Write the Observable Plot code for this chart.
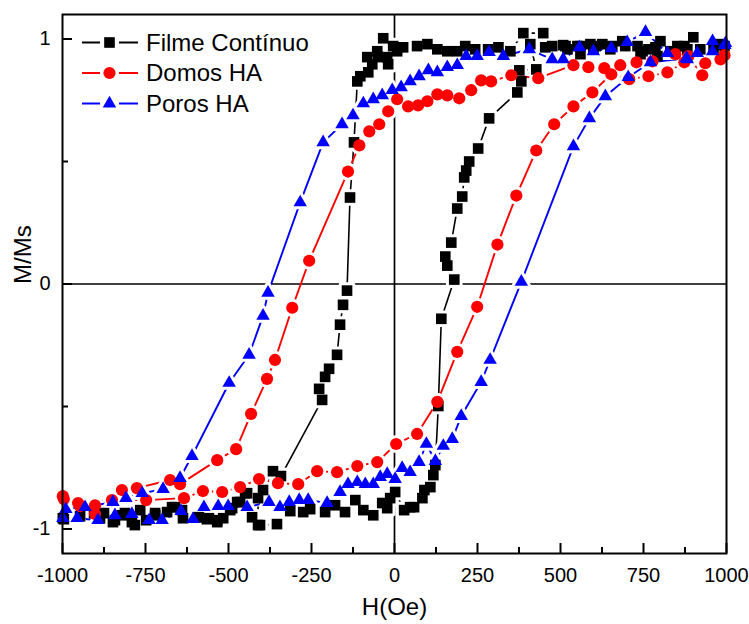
<!DOCTYPE html>
<html><head><meta charset="utf-8">
<script src="https://cdn.jsdelivr.net/npm/d3@7"></script>
<script src="https://cdn.jsdelivr.net/npm/@observablehq/plot@0.6"></script>
<style>
body{margin:0;background:#fff;}
#chart{width:749px;height:624px;}
</style></head><body><div id="chart"></div>
<script>
const seriesNames = ["Filme Contínuo", "Domos HA", "Poros HA"];
const xTicks = [-1000, -750, -500, -250, 0, 250, 500, 750, 1000];
const xMinorTicks = [-875, -625, -375, -125, 125, 375, 625, 875];
const yTicks = [-1, 0, 1];
const yMinorTicks = [-0.5, 0.5];

// Filme Contínuo: descending branch then ascending branch
const filmeDescH = [994,961,900,882,852,801,792,765,741,732,686,656,626,599,590,560,551,515,508,475,448,388,349,313,282,243,213,189,159,129,99,68,26,8,-4,-19,-22,-34,-49,-52,-67,-79,-82,-103,-112,-122,-134,-143,-155,-164,-173,-197,-209,-227,-218,-342,-366,-396,-411,-411,-450,-474,-495,-534,-559,-589,-640,-670,-721,-748,-782,-812,-842,-875,-905,-947,-996];
const filmeDescM = [0.971,0.962,1.007,0.958,0.971,0.991,0.930,0.958,0.938,0.971,0.991,0.971,0.979,0.958,0.979,0.938,0.971,0.971,0.975,0.971,1.024,1.024,0.950,0.966,0.958,0.958,0.971,0.950,0.950,0.958,0.979,0.971,0.966,0.950,0.971,0.897,0.926,1.003,0.926,0.950,0.897,0.864,0.926,0.848,0.827,0.578,0.353,-0.027,-0.085,-0.166,-0.289,-0.346,-0.379,-0.428,-0.473,-0.784,-0.764,-0.841,-0.874,-0.984,-0.854,-0.890,-0.923,-0.964,-0.956,-0.952,-0.923,-0.911,-0.935,-0.964,-0.984,-0.935,-0.964,-0.935,-0.935,-0.948,-0.960];
const filmeAscH = [-999,-887,-848,-821,-791,-766,-721,-685,-661,-637,-592,-565,-534,-516,-489,-465,-444,-429,-405,-354,-314,-275,-254,-209,-179,-149,-118,-94,-64,-37,-22,-13,2,29,47,59,84,90,108,117,123,132,141,180,159,153,171,189,204,210,216,225,252,285,370,382,376,427,409,454,521,560,606,650,695,747,786,831,873,921,976];
const filmeAscM = [-0.956,-0.956,-0.972,-0.944,-0.972,-0.923,-0.944,-0.931,-0.911,-0.956,-0.952,-0.960,-0.972,-0.956,-0.915,-0.890,-0.854,-0.952,-0.984,-0.980,-0.927,-0.931,-0.919,-0.931,-0.903,-0.931,-0.882,-0.923,-0.944,-0.894,-0.915,-0.874,-0.849,-0.923,-0.911,-0.911,-0.874,-0.841,-0.829,-0.780,-0.739,-0.498,-0.142,0.018,0.075,0.112,0.169,0.308,0.357,0.435,0.463,0.500,0.553,0.676,0.782,0.827,0.872,0.876,0.979,0.966,0.958,0.971,0.971,0.958,0.971,0.950,0.966,0.950,0.971,0.958,0.979];

// Domos HA
const domosDescH = [994,927,885,846,777,729,680,632,584,539,433,352,291,261,231,195,159,129,99,71,41,8,-19,-46,-76,-106,-140,-257,-308,-360,-384,-432,-477,-534,-646,-676,-776,-821,-902,-953,-996];
const domosDescM = [0.934,0.852,0.930,0.938,0.909,0.905,0.893,0.881,0.885,0.893,0.840,0.852,0.827,0.831,0.791,0.758,0.770,0.774,0.746,0.729,0.725,0.754,0.705,0.652,0.623,0.566,0.459,0.095,-0.097,-0.310,-0.387,-0.530,-0.674,-0.719,-0.817,-0.800,-0.833,-0.841,-0.903,-0.894,-0.878];
const domosAscH = [-999,-947,-902,-851,-748,-634,-577,-519,-465,-408,-351,-290,-233,-173,-112,-52,5,68,129,189,249,310,367,427,481,539,596,653,707,765,822,873,936,982];
const domosAscM = [-0.866,-0.907,-0.939,-0.882,-0.882,-0.874,-0.845,-0.849,-0.829,-0.796,-0.813,-0.817,-0.764,-0.768,-0.743,-0.727,-0.653,-0.612,-0.481,-0.277,-0.093,0.161,0.361,0.545,0.652,0.725,0.782,0.856,0.836,0.848,0.864,0.905,0.901,0.917];

// Poros HA
const porosDescH = [997,958,912,882,822,756,701,653,599,557,508,475,406,328,285,249,216,189,159,129,102,74,47,20,-7,-37,-64,-94,-125,-158,-215,-284,-381,-396,-438,-498,-610,-646,-697,-760,-809,-848,-932,-990];
const porosDescM = [0.983,0.991,0.942,0.917,0.942,1.028,0.987,0.962,0.950,0.966,0.917,0.917,0.958,0.930,0.946,0.930,0.930,0.893,0.885,0.864,0.872,0.848,0.827,0.803,0.791,0.770,0.754,0.737,0.688,0.652,0.578,0.333,-0.036,-0.130,-0.289,-0.404,-0.702,-0.792,-0.837,-0.854,-0.874,-0.890,-0.911,-0.919];
const porosAscH = [-999,-956,-893,-842,-791,-739,-700,-643,-607,-574,-531,-501,-444,-378,-345,-317,-287,-260,-203,-164,-140,-112,-88,-64,-43,-22,2,23,47,74,96,123,147,174,201,261,288,382,539,587,635,704,771,879,958,995];
const porosAscM = [-0.956,-0.956,-0.964,-0.944,-0.939,-0.964,-0.964,-0.927,-0.960,-0.911,-0.907,-0.907,-0.911,-0.890,-0.911,-0.890,-0.882,-0.882,-0.894,-0.849,-0.817,-0.809,-0.817,-0.817,-0.788,-0.776,-0.796,-0.751,-0.768,-0.727,-0.653,-0.723,-0.661,-0.633,-0.539,-0.400,-0.310,0.009,0.562,0.676,0.766,0.844,0.905,0.921,0.950,0.975];

const mk = (H, M) => H.map((h, i) => ({H: h, M: M[i]}));
const series = [
  {name: seriesNames[0], data: mk([...filmeDescH, ...filmeAscH], [...filmeDescM, ...filmeAscM]), color: "#000000", symbol: "square", r: 6, sw: 1.6},
  {name: seriesNames[1], data: mk([...domosDescH, ...domosAscH], [...domosDescM, ...domosAscM]), color: "#ff0000", symbol: "circle", r: 6.1, sw: 1.9},
  {name: seriesNames[2], data: mk([...porosDescH, ...porosAscH], [...porosDescM, ...porosAscM]), color: "#0000ff", symbol: "triangle", r: 5, sw: 1.9}
];

const W = 749, Ht = 624, mL = 62, mR = 23, mT = 14, mB = 71;
const fw = W - mL - mR, fh = Ht - mT - mB;
const font = "'Liberation Sans', Arial, sans-serif";

const marks = [
  Plot.ruleX([0], {x: d => d, stroke: "#000", strokeWidth: 1.7}),
  Plot.ruleY([0], {y: d => d, stroke: "#000", strokeWidth: 1.7})
];
for (const s of series) {
  marks.push(Plot.line(s.data, {x: "H", y: "M", stroke: s.color, strokeWidth: s.sw}));
  marks.push(Plot.dot(s.data, {x: "H", y: "M", symbol: s.symbol, r: s.r, fill: "white", stroke: "white", strokeWidth: 6, strokeLinejoin: "round"}));
}
for (const s of series) {
  marks.push(Plot.dot(s.data, {x: "H", y: "M", symbol: s.symbol, r: s.r, fill: s.color, stroke: "none"}));
}
marks.push(
  Plot.ruleX(xTicks, {x: d => d, insetTop: fh - 10, stroke: "#000", strokeWidth: 2}),
  Plot.ruleX(xMinorTicks, {x: d => d, insetTop: fh - 6, stroke: "#000", strokeWidth: 2}),
  Plot.ruleY(yTicks, {y: d => d, insetRight: fw - 10, stroke: "#000", strokeWidth: 2}),
  Plot.ruleY(yMinorTicks, {y: d => d, insetRight: fw - 6, stroke: "#000", strokeWidth: 2}),
  Plot.axisX(xTicks, {tickSize: 0, tickPadding: 14, tickFormat: d => String(d), label: null, fontSize: 20}),
  Plot.axisY(yTicks, {tickSize: 0, tickPadding: 12, tickFormat: d => String(d), label: null, fontSize: 20}),
  Plot.frame({stroke: "#000", strokeWidth: 2}),
  Plot.text(["H(Oe)"], {text: d => d, frameAnchor: "bottom", dy: 61, fontSize: 24, fill: "#000"}),
  Plot.text(["M/Ms"], {text: d => d, frameAnchor: "left", rotate: -90, dx: -39, fontSize: 24, fill: "#000"})
);

const plot = Plot.plot({
  width: W, height: Ht,
  marginLeft: mL, marginRight: mR, marginTop: mT, marginBottom: mB,
  style: {fontFamily: font, fontSize: "20px", color: "#000", background: "#fff", overflow: "visible"},
  x: {domain: [-1000, 1000], label: null},
  y: {domain: [-1.1, 1.1], label: null},
  marks
});
document.getElementById("chart").appendChild(plot);

// Legend (top-left inside the frame)
const svg = d3.select(plot);
const lg = svg.append("g").attr("font-family", font).attr("font-size", 24).attr("text-anchor", "start");
const symMap = {square: d3.symbolSquare, circle: d3.symbolCircle, triangle: d3.symbolTriangle};
series.forEach((s, i) => {
  const cy = 42.5 + i * 30.5;
  lg.append("line").attr("x1", 82).attr("x2", 100).attr("y1", cy).attr("y2", cy).attr("stroke", s.color).attr("stroke-width", 2);
  lg.append("line").attr("x1", 119).attr("x2", 138).attr("y1", cy).attr("y2", cy).attr("stroke", s.color).attr("stroke-width", 2);
  lg.append("path").attr("d", d3.symbol(symMap[s.symbol], s.r * s.r * Math.PI)()).attr("transform", `translate(109.5,${cy})`).attr("fill", s.color);
  lg.append("text").attr("x", 146).attr("y", cy).attr("dy", "0.35em").attr("fill", "#000").attr("text-anchor", "start").text(s.name);
});
</script>
</body></html>
